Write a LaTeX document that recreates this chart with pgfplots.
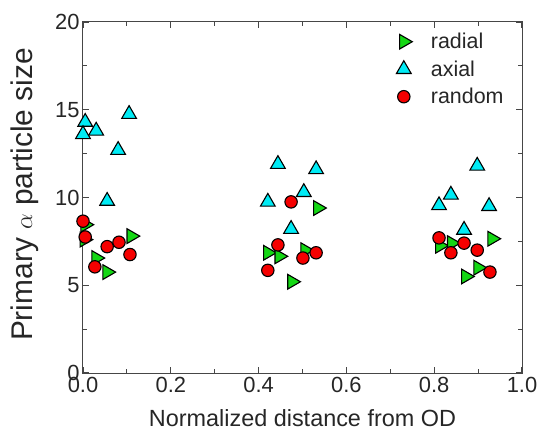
\documentclass[border=0pt]{standalone}
\usepackage{pgfplots}
\pgfplotsset{compat=1.18}
\usepackage{fontspec}
\setmainfont{Liberation Sans}
\definecolor{mgreen}{RGB}{20,215,20}
\definecolor{mcyan}{RGB}{0,235,245}
\definecolor{mred}{RGB}{245,0,0}
\definecolor{axgray}{RGB}{70,70,70}
\begin{document}
\begin{tikzpicture}
\begin{axis}[
  scale only axis, width=439bp, height=351bp,
  xmin=0, xmax=1, ymin=0, ymax=20,
  xtick={0,0.2,0.4,0.6,0.8,1.0}, minor xtick={0.1,0.3,0.5,0.7,0.9},
  ytick={0,5,10,15,20}, minor ytick={2.5,7.5,12.5,17.5},
  xtick pos=both, ytick pos=both,
  xtick align=inside, ytick align=inside,
  tickwidth=0.22cm, subtickwidth=0.13cm,
  axis line style={draw=axgray, line width=1bp},
  xtick style={draw=axgray, line width=1.2pt},
  ytick style={draw=axgray, line width=1.2pt},
  /pgf/number format/assume math mode=true,
  x tick label style={/pgf/number format/fixed, /pgf/number format/fixed zerofill, /pgf/number format/precision=1, yshift=-1bp},
  ticklabel style={font=\fontsize{22}{22}\selectfont, text=black!85},
  xlabel={Normalized distance from OD},
  ylabel={Primary $\alpha$ particle size},
  xlabel style={font=\fontsize{23.5}{24}\selectfont, text=black!85, yshift=-10bp},
  ylabel style={font=\fontsize{30}{30}\selectfont, text=black!85, yshift=10bp, xshift=3bp},
  legend style={draw=none, fill=none, at={(rel axis cs:0.694,0.98)}, anchor=north west,
    font=\fontsize{21.5}{22}\selectfont, row sep=6.5bp, text=black!85},
  legend cell align=left,
  legend image code/.code={\path (0,0) (1.33cm,0); \draw[#1] plot coordinates {(0.45cm,0cm)};},
  clip=false,
]
\pgfplotsinvokeforeach{0.2,0.4,0.6,0.8}{
  \draw[axgray, line width=1bp] (axis cs:#1,0) -- ++(0,6bp);
  \draw[axgray, line width=1bp] (axis cs:#1,20) -- ++(0,-6bp);
}
\pgfplotsinvokeforeach{0.1,0.3,0.5,0.7,0.9}{
  \draw[axgray, line width=1bp] (axis cs:#1,0) -- ++(0,3.5bp);
  \draw[axgray, line width=1bp] (axis cs:#1,20) -- ++(0,-3.5bp);
}
\pgfplotsinvokeforeach{5,10,15}{
  \draw[axgray, line width=1bp] (axis cs:0,#1) -- ++(6bp,0);
  \draw[axgray, line width=1bp] (axis cs:1,#1) -- ++(-6bp,0);
}
\pgfplotsinvokeforeach{2.5,7.5,12.5,17.5}{
  \draw[axgray, line width=1bp] (axis cs:0,#1) -- ++(3.5bp,0);
  \draw[axgray, line width=1bp] (axis cs:1,#1) -- ++(-3.5bp,0);
}
\addplot[only marks, mark=triangle*, mark size=8.5bp,
  mark options={rotate=-90, fill=mgreen, draw=black, line width=1.1bp}]
  coordinates {
  (0.005,8.45) (0.003,7.6) (0.030,6.55) (0.055,5.75) (0.110,7.8)
  (0.535,9.4) (0.421,6.85) (0.447,6.65) (0.506,7.0) (0.476,5.2)
  (0.813,7.25) (0.840,7.4) (0.932,7.65) (0.872,5.5) (0.900,6.0)
  };
\addlegendentry{radial}
\addplot[only marks, mark=triangle*, mark size=8.5bp,
  mark options={fill=mcyan, draw=black, line width=1.1bp}]
  coordinates {
  (0.005,14.3) (0.000,13.6) (0.030,13.8) (0.080,12.7) (0.055,9.8) (0.105,14.75)
  (0.444,11.9) (0.531,11.6) (0.421,9.75) (0.503,10.3) (0.474,8.2)
  (0.898,11.8) (0.838,10.15) (0.811,9.55) (0.925,9.5) (0.868,8.15)
  };
\addlegendentry{axial}
\addplot[only marks, mark=*, mark size=6.2bp,
  mark options={fill=mred, draw=black, line width=1.1bp}]
  coordinates {
  (0.000,8.65) (0.005,7.75) (0.027,6.05) (0.055,7.2) (0.082,7.45) (0.107,6.75)
  (0.474,9.75) (0.444,7.3) (0.531,6.85) (0.501,6.55) (0.421,5.85)
  (0.811,7.7) (0.868,7.4) (0.838,6.85) (0.898,7.0) (0.927,5.75)
  };
\addlegendentry{random}
\end{axis}
\pgfresetboundingbox
\path[use as bounding box] (-83bp,-69bp) rectangle (457bp,373bp);
\end{tikzpicture}
\end{document}
